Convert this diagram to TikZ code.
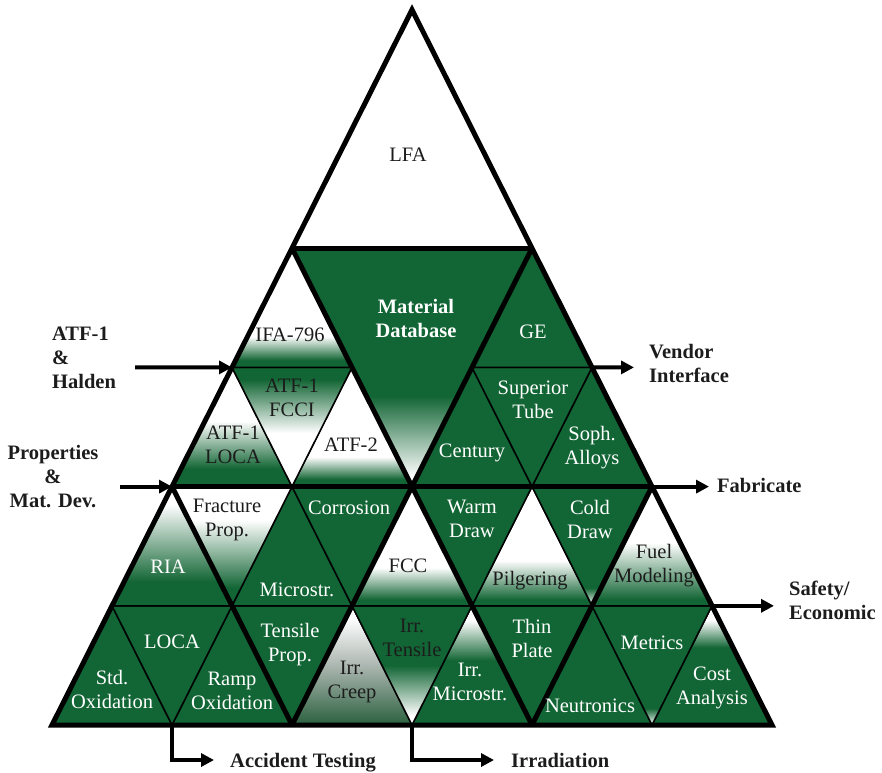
\documentclass[tikz,border=0pt]{standalone}
\usepackage{fontspec}
\setmainfont{Liberation Serif}
\usetikzlibrary{arrows.meta}

\definecolor{dgreen}{RGB}{18,101,52}
\definecolor{creepbot}{RGB}{42,96,62}
\definecolor{creepmid}{RGB}{172,182,176}
\definecolor{ink}{RGB}{28,28,28}

% vertical fades: stops from bottom (25bp) to top (75bp) of each cell
\pgfdeclareverticalshading{shIFA}{100bp}{color(0bp)=(dgreen); color(28bp)=(dgreen); color(38bp)=(white); color(100bp)=(white)}
\pgfdeclareverticalshading{shATFL}{100bp}{color(0bp)=(dgreen); color(32.5bp)=(dgreen); color(52.5bp)=(white); color(100bp)=(white)}
\pgfdeclareverticalshading{shATFT}{100bp}{color(0bp)=(dgreen); color(28bp)=(dgreen); color(37.5bp)=(white); color(100bp)=(white)}
\pgfdeclareverticalshading{shFCCI}{100bp}{color(0bp)=(white); color(47.5bp)=(white); color(70bp)=(dgreen); color(100bp)=(dgreen)}
\pgfdeclareverticalshading{shMDB}{100bp}{color(0bp)=(white); color(27bp)=(white); color(44bp)=(dgreen); color(100bp)=(dgreen)}
\pgfdeclareverticalshading{shRIA}{100bp}{color(0bp)=(dgreen); color(35bp)=(dgreen); color(67.5bp)=(white); color(100bp)=(white)}
\pgfdeclareverticalshading{shFRAC}{100bp}{color(0bp)=(dgreen); color(32.5bp)=(dgreen); color(61bp)=(white); color(100bp)=(white)}
\pgfdeclareverticalshading{shFCC}{100bp}{color(0bp)=(dgreen); color(27.5bp)=(dgreen); color(41bp)=(white); color(100bp)=(white)}
\pgfdeclareverticalshading{shPILG}{100bp}{color(0bp)=(dgreen); color(27.5bp)=(dgreen); color(44bp)=(white); color(100bp)=(white)}
\pgfdeclareverticalshading{shFUEL}{100bp}{color(0bp)=(dgreen); color(27.5bp)=(dgreen); color(51.5bp)=(white); color(100bp)=(white)}
\pgfdeclareverticalshading{shCOLD}{100bp}{color(0bp)=(white); color(25bp)=(white); color(32.5bp)=(dgreen); color(100bp)=(dgreen)}
\pgfdeclareverticalshading{shCREEP}{100bp}{color(0bp)=(creepbot); color(25bp)=(creepbot); color(50bp)=(creepmid); color(70bp)=(white); color(100bp)=(white)}
\pgfdeclareverticalshading{shIRRT}{100bp}{color(0bp)=(white); color(29bp)=(white); color(50bp)=(dgreen); color(100bp)=(dgreen)}
\pgfdeclareverticalshading{shIRRM}{100bp}{color(0bp)=(dgreen); color(52bp)=(dgreen); color(69bp)=(white); color(100bp)=(white)}
\pgfdeclareverticalshading{shMETR}{100bp}{color(0bp)=(white); color(25bp)=(white); color(32bp)=(dgreen); color(100bp)=(dgreen)}
\pgfdeclareverticalshading{shCOST}{100bp}{color(0bp)=(dgreen); color(57.5bp)=(dgreen); color(69bp)=(white); color(100bp)=(white)}

\tikzset{
  cell/.style={draw=black, line width=1.5pt, line join=miter},
  gcell/.style={cell, fill=dgreen},
  wcell/.style={cell, fill=white},
  scell/.style={cell, shade, shading=#1},
  bigline/.style={line width=5pt, line join=miter, line cap=butt},
  lab/.style={font=\fontsize{20.5}{24}\selectfont, align=center, text=white, inner sep=0pt},
  dlab/.style={lab, text=ink},
  olab/.style={font=\fontsize{20.5}{24}\selectfont\bfseries, text=ink, inner sep=0pt},
  arr/.style={line width=4pt, line join=miter, -{Triangle[length=13pt,width=13pt]}}
}

\begin{document}
\begin{tikzpicture}[x=1pt,y=-1pt]
\useasboundingbox (0,0) rectangle (882,772);

% lattice points p-a-r: a along the row, r = level counted from the base
\foreach \r in {0,...,6}{
  \pgfmathtruncatemacro\amax{6-\r}
  \foreach \a in {0,...,\amax}{
    \coordinate (p-\a-\r) at ({52+120*\a+60*\r},{725-119.2*\r});
  }
}

% ---- bottom band, lower row
\path[gcell] (p-0-0) -- (p-1-0) -- (p-0-1) -- cycle;
\path[gcell] (p-1-0) -- (p-2-0) -- (p-1-1) -- cycle;
\path[scell=shCREEP] (p-2-0) -- (p-3-0) -- (p-2-1) -- cycle;
\path[scell=shIRRM] (p-3-0) -- (p-4-0) -- (p-3-1) -- cycle;
\path[gcell] (p-4-0) -- (p-5-0) -- (p-4-1) -- cycle;
\path[scell=shCOST] (p-5-0) -- (p-6-0) -- (p-5-1) -- cycle;
\path[gcell] (p-0-1) -- (p-1-1) -- (p-1-0) -- cycle;
\path[gcell] (p-1-1) -- (p-2-1) -- (p-2-0) -- cycle;
\path[scell=shIRRT] (p-2-1) -- (p-3-1) -- (p-3-0) -- cycle;
\path[gcell] (p-3-1) -- (p-4-1) -- (p-4-0) -- cycle;
\path[scell=shMETR] (p-4-1) -- (p-5-1) -- (p-5-0) -- cycle;

% ---- bottom band, upper row
\path[scell=shRIA] (p-0-1) -- (p-1-1) -- (p-0-2) -- cycle;
\path[gcell] (p-1-1) -- (p-2-1) -- (p-1-2) -- cycle;
\path[scell=shFCC] (p-2-1) -- (p-3-1) -- (p-2-2) -- cycle;
\path[scell=shPILG] (p-3-1) -- (p-4-1) -- (p-3-2) -- cycle;
\path[scell=shFUEL] (p-4-1) -- (p-5-1) -- (p-4-2) -- cycle;
\path[scell=shFRAC] (p-0-2) -- (p-1-2) -- (p-1-1) -- cycle;
\path[gcell] (p-1-2) -- (p-2-2) -- (p-2-1) -- cycle;
\path[gcell] (p-2-2) -- (p-3-2) -- (p-3-1) -- cycle;
\path[scell=shCOLD] (p-3-2) -- (p-4-2) -- (p-4-1) -- cycle;

% ---- middle band
\path[scell=shATFL] (p-0-2) -- (p-1-2) -- (p-0-3) -- cycle;
\path[scell=shATFT] (p-1-2) -- (p-2-2) -- (p-1-3) -- cycle;
\path[gcell] (p-2-2) -- (p-3-2) -- (p-2-3) -- cycle;
\path[gcell] (p-3-2) -- (p-4-2) -- (p-3-3) -- cycle;
\path[scell=shFCCI] (p-0-3) -- (p-1-3) -- (p-1-2) -- cycle;
\path[gcell] (p-2-3) -- (p-3-3) -- (p-3-2) -- cycle;
\path[scell=shIFA] (p-0-3) -- (p-1-3) -- (p-0-4) -- cycle;
\path[gcell] (p-2-3) -- (p-3-3) -- (p-2-4) -- cycle;
\path[scell=shMDB] (p-0-4) -- (p-2-4) -- (p-2-2) -- cycle;

% ---- top
\path[wcell] (p-0-4) -- (p-2-4) -- (p-0-6) -- cycle;

% ---- heavy frame of the nine large triangles
\draw[bigline] (p-0-0) -- (p-6-0) -- (p-0-6) -- cycle;
\draw[bigline] (p-0-2) -- (p-4-2);
\draw[bigline] (p-0-4) -- (p-2-4);
\draw[bigline] (p-2-0) -- (p-2-4);
\draw[bigline] (p-4-0) -- (p-4-2);
\draw[bigline] (p-2-0) -- (p-0-2);
\draw[bigline] (p-4-0) -- (p-0-4);

% ---- cell labels
\node[dlab] (lfa) at (408,155) {LFA};
\node[lab, font=\fontsize{20.5}{24}\selectfont\bfseries] (mdb) at (416,318) {Material\\Database};
\node[dlab] (ifa) at (290,335) {IFA-796};
\node[dlab] (fcci) at (292,398) {ATF-1\\FCCI};
\node[dlab] (atfloca) at (233,445) {ATF-1\\LOCA};
\node[dlab] (atf2) at (351,445) {ATF-2};
\node[lab] (ge) at (533,332) {GE};
\node[lab] (sup) at (533,400) {Superior\\Tube};
\node[lab] (cent) at (472,453) {Century};
\node[lab] (soph) at (592,448) {Soph.\\Alloys};
\node[dlab] (frac) at (227,520) {Fracture\\Prop.};
\node[lab] (ria) at (168,567) {RIA};
\node[lab] (micro) at (297,590) {Microstr.};
\node[lab] (corr) at (349,508) {Corrosion};
\node[dlab] (fcc) at (408,566) {FCC};
\node[lab] (warm) at (472,519) {Warm\\Draw};
\node[dlab] (pilg) at (530,581) {Pilgering};
\node[lab] (cold) at (590,519) {Cold\\Draw};
\node[dlab] (fuel) at (654,566) {Fuel\\Modeling};
\node[lab] (stdox) at (112,689) {Std.\\Oxidation};
\node[lab] (loca) at (172,642) {LOCA};
\node[lab] (rampox) at (232,691) {Ramp\\Oxidation};
\node[lab] (tens) at (290,645) {Tensile\\Prop.};
\node[dlab] (creep) at (352,682) {Irr.\\Creep};
\node[dlab] (irrt) at (412,638) {Irr.\\Tensile};
\node[lab] (irrm) at (470,682) {Irr.\\Microstr.};
\node[lab] (thin) at (532,638) {Thin\\Plate};
\node[lab] (neut) at (590,706) {Neutronics};
\node[lab] (metr) at (652,643) {Metrics};
\node[lab] (cost) at (712,688) {Cost\\Analysis};

% ---- outside labels
\node[olab, anchor=west, align=left] (halden) at (52,358) {ATF-1\\\&\\Halden};
\node[olab, align=center] (props) at (53,477) {Properties\\\&\\Mat. Dev.};
\node[olab, anchor=west, align=left] (vendor) at (649,363) {Vendor\\Interface};
\node[olab, anchor=west] (fab) at (717,485) {Fabricate};
\node[olab, anchor=west, align=left] (safety) at (789,600) {Safety/\\Economic};
\node[olab, anchor=base west] (acc) at (230,767) {Accident Testing};
\node[olab, anchor=base west] (irr) at (511,767) {Irradiation};

% ---- arrows
\coordinate (haldenTail) at (135,367.4);
\coordinate (propsTail) at (120,486.6);
\coordinate (vendorTip) at (634,367.4);
\coordinate (fabTip) at (709,486.6);
\coordinate (safetyTip) at (774,605.8);
\coordinate (accTip) at (214,760);
\coordinate (irrTip) at (494,760);

\draw[arr] (haldenTail) -- (p-0-3);
\draw[arr] (propsTail) -- (p-0-2);
\draw[arr] (p-3-3) -- (vendorTip);
\draw[arr] (p-4-2) -- (fabTip);
\draw[arr] (p-5-1) -- (safetyTip);
\draw[arr] (p-1-0) |- (accTip);
\draw[arr] (p-3-0) |- (irrTip);
\end{tikzpicture}
\end{document}
